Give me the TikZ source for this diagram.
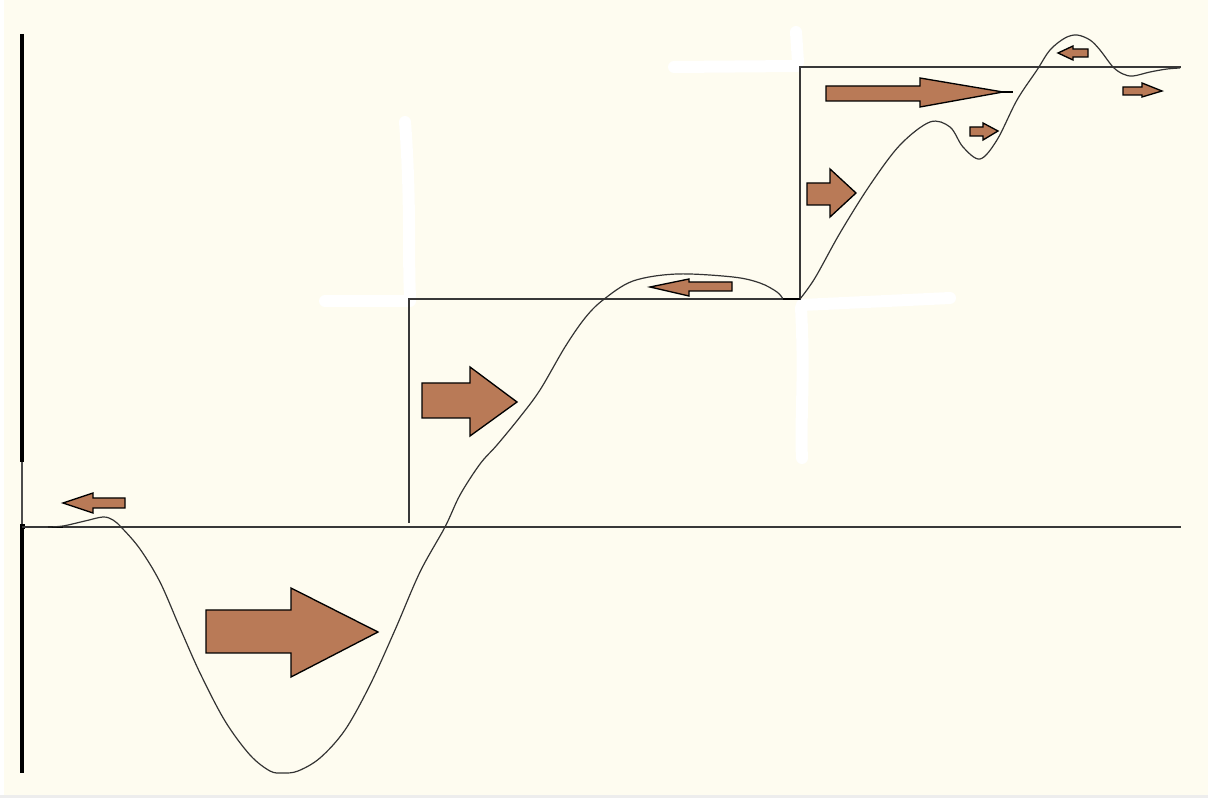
\documentclass[tikz,border=0pt]{standalone}
\begin{document}
\begin{tikzpicture}[x=0.75pt,y=-0.75pt,
  line join=miter,
  blockarrow/.style={fill=arrowbrown,draw=black,line width=1pt},
  axisline/.style={draw=black!78,line width=1.1pt},
  wave/.style={draw=black!80,line width=0.9pt},
  eraser/.style={draw=white,line width=9pt,line cap=round}]
\definecolor{paper}{RGB}{254,252,240}
\definecolor{arrowbrown}{RGB}{185,122,87}

% canvas
\fill[paper] (0,0) rectangle (1208,798);
\fill[white] (0,0) rectangle (4,798);
\fill[black!7] (0,795) rectangle (1208,798);
\useasboundingbox (0,0) rectangle (1208,798);

% white strokes around the step corners
\draw[eraser] (405,122) .. controls (411,200) and (408,260) .. (410,296);
\draw[eraser] (325,301) -- (410,301);
\draw[eraser] (802,305) -- (950,298);
\draw[eraser] (801,308) .. controls (805,380) and (800,420) .. (802,458);
\draw[eraser] (674,67) -- (797,66);
\draw[eraser] (796,32) -- (798,62);

% vertical axis
\draw[black,line width=2.4pt] (22,34) -- (22,462);
\draw[black!70,line width=0.9pt] (22,462) -- (22,527);
\draw[black,line width=2.4pt] (22,527) -- (22,773);
\fill[black] (19.5,524.5) rectangle (24.5,529.5);

% horizontal axis and step levels
\coordinate (o) at (22,527);
\coordinate (e) at (1181,527);
\draw[axisline] (o) -- (e);
\coordinate (s1) at (409,523);
\coordinate (c1) at (409,299);
\coordinate (c2) at (800,299);
\coordinate (c3) at (800,67);
\coordinate (s4) at (1181,67);
\draw[axisline] (s1) -- (c1) -- (c2) -- (c3) -- (s4);

% response curve
\draw[black,line width=2pt] (48,527) -- (63,527);
\draw[wave] plot[smooth,tension=0.55] coordinates {
  (48,527) (63,526) (85,521) (103,517) (113,520) (122,528) (140,549)
  (160,582) (180,628) (200,673) (225,721) (250,755) (270,771) (283,773)
  (298,771) (320,758) (345,730) (370,685) (395,630) (420,572) (445,527)
  (460,495) (480,464) (497,445) (520,417) (540,390) (565,347) (585,318)
  (603,300) (633,281) (677,274) (733,277) (760,283) (777,292) (783,299)};
\draw[black,line width=2pt] (783,299) -- (800,299);
\draw[wave] plot[smooth,tension=0.55] coordinates {
  (800,299) (815,278) (840,233) (870,185) (900,145) (930,122) (950,127)
  (963,147) (980,159) (997,140) (1017,100) (1037,70) (1050,50) (1065,38)
  (1077,35) (1090,40) (1100,50) (1113,67) (1123,74) (1133,76) (1150,72)
  (1167,69) (1180,68)};

% block arrows
\draw[blockarrow] (125,498) -- (93,498) -- (93,493) -- (63,503) -- (93,513) -- (93,508) -- (125,508) -- cycle;
\draw[blockarrow] (206,610) -- (291,610) -- (291,588) -- (378,632) -- (291,677) -- (291,653) -- (206,653) -- cycle;
\draw[blockarrow] (422,383) -- (470,383) -- (470,367) -- (517,402) -- (470,436) -- (470,418) -- (422,418) -- cycle;
\draw[blockarrow] (732,282) -- (689,282) -- (689,279) -- (650,287) -- (689,296) -- (689,291) -- (732,291) -- cycle;
\draw[blockarrow] (807,183) -- (830,183) -- (830,169) -- (856,193) -- (830,217) -- (830,205) -- (807,205) -- cycle;
\draw[black,line width=1.6pt] (995,92) -- (1013,92);
\draw[blockarrow] (826,86) -- (920,86) -- (920,78) -- (1003,92) -- (920,107) -- (920,101) -- (826,101) -- cycle;
\draw[blockarrow] (970,127) -- (983,127) -- (983,123) -- (998,131) -- (983,140) -- (983,136) -- (970,136) -- cycle;
\draw[blockarrow] (1088,49) -- (1073,49) -- (1073,46) -- (1058,53) -- (1073,60) -- (1073,57) -- (1088,57) -- cycle;
\draw[blockarrow] (1123,87) -- (1142,87) -- (1142,83) -- (1162,91) -- (1142,97) -- (1142,95) -- (1123,95) -- cycle;
\end{tikzpicture}
\end{document}
